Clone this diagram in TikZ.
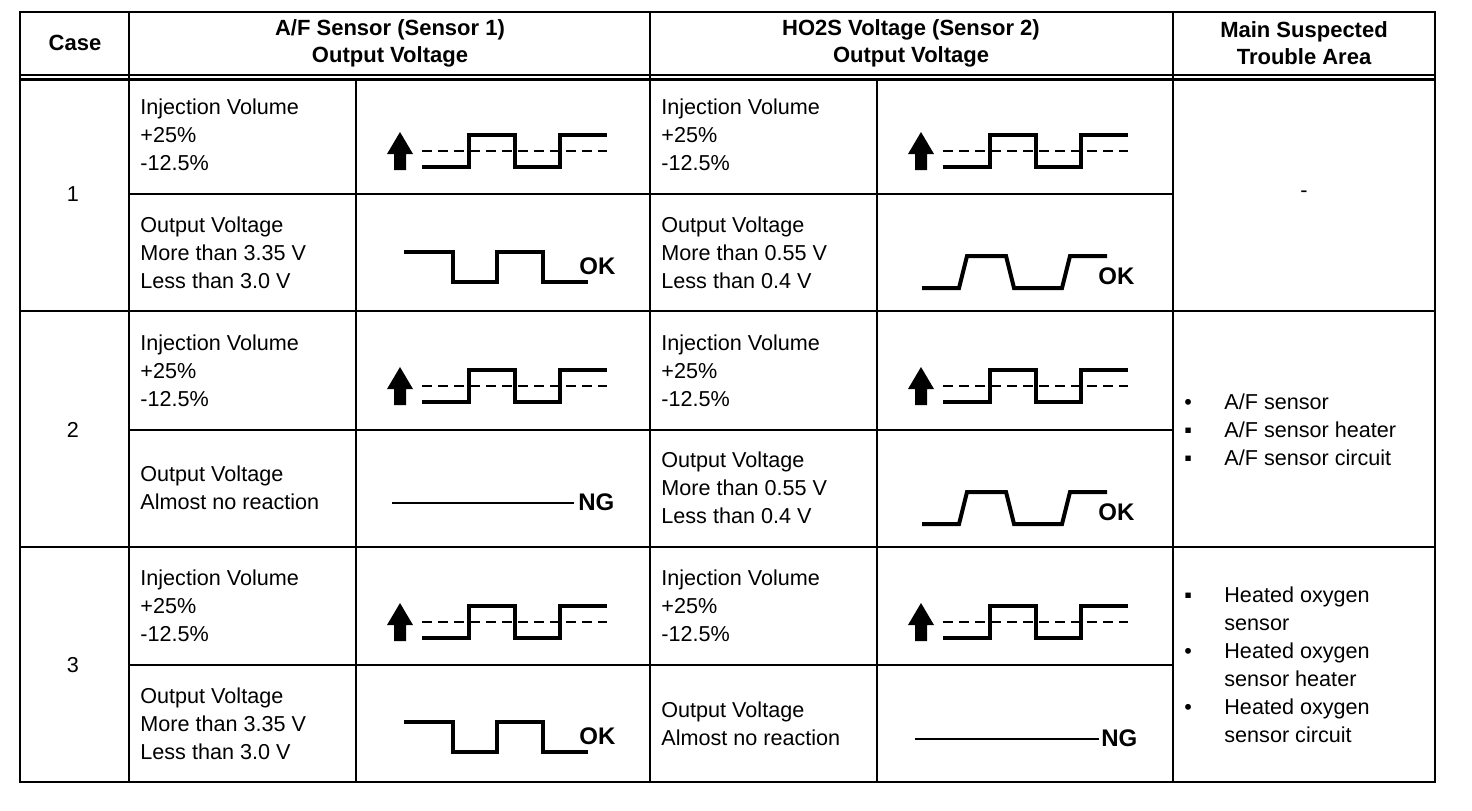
\documentclass[tikz,border=0pt]{standalone}
\usepackage{fontspec}
\setmainfont{Liberation Sans}

\tikzset{
  rule/.style={line width=1.4pt},
  twin/.style={line width=1.15pt},
  wave/.style={line width=2pt, line join=miter},
  midline/.style={line width=1.4pt, dash pattern=on 5pt off 3pt},
  flat/.style={line width=1pt},
  cell/.style={anchor=west, align=left, inner sep=0pt},
  verdict/.style={anchor=west, inner sep=0pt, font=\fontsize{12}{14}\selectfont\bfseries},
  head/.style={align=center, inner sep=0pt, font=\fontsize{11}{13.5}\selectfont\bfseries},
}
\newcommand\itm[1]{\makebox[20pt][l]{#1}}

\begin{document}
\begin{tikzpicture}[x=0.5pt, y=-0.5pt, every node/.append style={font=\fontsize{10.8}{14}\selectfont}]
        \useasboundingbox (0,0) rectangle (1472,810);

        % table rules
        \draw[rule] (20,12) rectangle (1435,782);
        \draw[twin] (20,75) -- (1435,75);
        \draw[twin] (20,79.5) -- (1435,79.5);
        \draw[rule] (129,12) -- (129,782);
        \draw[rule] (650,12) -- (650,782);
        \draw[rule] (1173,12) -- (1173,782);
        \draw[rule] (356,79.5) -- (356,782);
        \draw[rule] (877,79.5) -- (877,782);
        \draw[rule] (20,311) -- (1435,311);
        \draw[rule] (20,547) -- (1435,547);
        \draw[rule] (129,194) -- (1173,194);
        \draw[rule] (129,430) -- (1173,430);
        \draw[rule] (129,665) -- (1173,665);

        % header
        \node[head] (hcase) at (75,43) {Case};
        \node[head] (haf) at (390,43) {A/F Sensor (Sensor 1)\\Output Voltage};
        \node[head] (hho) at (911,43) {HO2S Voltage (Sensor 2)\\Output Voltage};
        \node[head] (harea) at (1304,43) {Main Suspected\\Trouble Area};

        % case numbers
        \node (case1) at (73,194) {1};
        \node (case2) at (73,430) {2};
        \node (case3) at (73,665) {3};

        % condition texts
        \node[cell] (inj1a) at (140,135) {Injection Volume\\+25\%\\-12.5\%};
        \node[cell] (inj1h) at (661,135) {Injection Volume\\+25\%\\-12.5\%};
        \node[cell] (out1a) at (140,252.5) {Output Voltage\\More than 3.35 V\\Less than 3.0 V};
        \node[cell] (out1h) at (661,252.5) {Output Voltage\\More than 0.55 V\\Less than 0.4 V};
        \node[cell] (inj2a) at (140,370.5) {Injection Volume\\+25\%\\-12.5\%};
        \node[cell] (inj2h) at (661,370.5) {Injection Volume\\+25\%\\-12.5\%};
        \node[cell] (out2a) at (140,488) {Output Voltage\\Almost no reaction};
        \node[cell] (out2h) at (661,488) {Output Voltage\\More than 0.55 V\\Less than 0.4 V};
        \node[cell] (inj3a) at (140,606) {Injection Volume\\+25\%\\-12.5\%};
        \node[cell] (inj3h) at (661,606) {Injection Volume\\+25\%\\-12.5\%};
        \node[cell] (out3a) at (140,723.5) {Output Voltage\\More than 3.35 V\\Less than 3.0 V};
        \node[cell] (out3h) at (661,723.5) {Output Voltage\\Almost no reaction};

        % injection volume signal
        \foreach \cx/\dy in {356/151, 877/151, 356/386, 877/386, 356/622, 877/622} {
            \fill (\cx+44,\dy-19) -- (\cx+57,\dy+3) -- (\cx+50,\dy+3) -- (\cx+50,\dy+19)
                -- (\cx+38,\dy+19) -- (\cx+38,\dy+3) -- (\cx+31,\dy+3) -- cycle;
            \draw[midline] (\cx+66,\dy) -- (\cx+251,\dy);
            \draw[wave] (\cx+66,\dy+15.5) -| (\cx+113,\dy-16.5) -| (\cx+159,\dy+15.5)
                -| (\cx+204,\dy-16.5) -- (\cx+251,\dy-16.5);
        }

        % A/F sensor output
        \foreach \my in {267, 737} {
            \draw[wave] (404,\my-15) -| (453,\my+15) -| (497,\my-15) -| (543,\my+15) -- (588,\my+15);
        }
        \node[verdict] (ok1a) at (579,266) {OK};
        \node[verdict] (ok3a) at (579,736) {OK};
        \draw[flat] (392,503) -- (574,503);
        \node[verdict] (ng2a) at (578,502) {NG};

        % HO2S output
        \foreach \my in {272, 508} {
            \draw[wave] (922,\my+16) -- (959,\my+16) -- (967,\my-16) -- (1006,\my-16) -- (1014,\my+16)
                -- (1062,\my+16) -- (1070,\my-16) -- (1107,\my-16);
        }
        \node[verdict] (ok1h) at (1098,276) {OK};
        \node[verdict] (ok2h) at (1098,512) {OK};
        \draw[flat] (915,739) -- (1099,739);
        \node[verdict] (ng3h) at (1101,738) {NG};

        % trouble areas
        \node (area1) at (1304,194) {-};
        \node[cell] (area2) at (1184,429.5) {\itm{•}A/F sensor\\\itm{▪}A/F sensor heater\\\itm{▪}A/F sensor circuit};
        \node[cell] (area3) at (1184,664.5) {\itm{▪}Heated oxygen\\\itm{}sensor\\\itm{•}Heated oxygen\\\itm{}sensor heater\\\itm{•}Heated oxygen\\\itm{}sensor circuit};
\end{tikzpicture}
\end{document}
